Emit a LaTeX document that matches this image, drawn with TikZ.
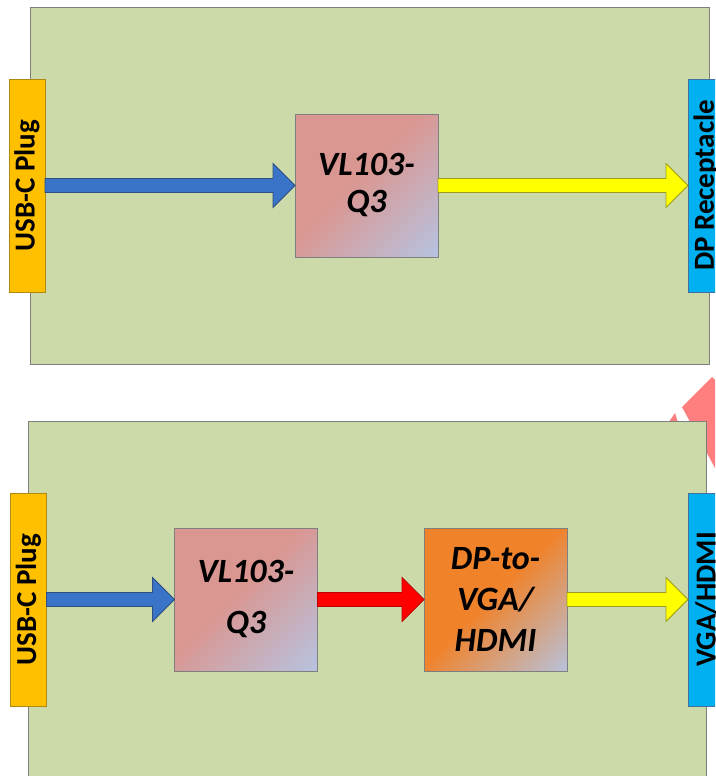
\documentclass[tikz,border=0pt]{standalone}
\usepackage{fontspec}
\setmainfont{Carlito}
\usetikzlibrary{calc}
\definecolor{panelfill}{HTML}{CBDAA8}
\definecolor{panelline}{HTML}{7F7F7F}
\definecolor{usbfill}{HTML}{FFC000}
\definecolor{usbline}{HTML}{B08A10}
\definecolor{dpfill}{HTML}{00B0F0}
\definecolor{dpline}{HTML}{41719C}
\definecolor{chipline}{HTML}{7F7F7F}
\definecolor{vlpink}{HTML}{DA9690}
\definecolor{vlblue}{HTML}{B4C6E6}
\definecolor{dporange}{HTML}{F0822A}
\definecolor{arrblue}{HTML}{3A74C8}
\definecolor{arrblueline}{HTML}{2F4F80}
\definecolor{arryellow}{HTML}{FFFF00}
\definecolor{arryellowline}{HTML}{9C9C20}
\definecolor{arrred}{HTML}{FF0000}
\definecolor{arrredline}{HTML}{C00000}
\definecolor{wmred}{HTML}{FF7F7F}
\pgfdeclarehorizontalshading{pinkblue}{100bp}{color(0bp)=(vlpink); color(45bp)=(vlpink); color(88bp)=(vlblue); color(100bp)=(vlblue)}
\pgfdeclarehorizontalshading{orangeblue}{100bp}{color(0bp)=(dporange); color(48bp)=(dporange); color(88bp)=(vlblue); color(100bp)=(vlblue)}
\tikzset{
  panel/.style={draw=panelline, fill=panelfill, line width=1pt, inner sep=0pt, outer sep=0pt, anchor=north west},
  port/.style={line width=1pt, inner sep=0pt, outer sep=0pt, minimum width=36pt, minimum height=213pt, font=\fontsize{29}{35}\selectfont\bfseries},
  usbport/.style={port, draw=usbline, fill=usbfill},
  dpport/.style={port, draw=dpline, fill=dpfill},
  chip/.style={draw=chipline, line width=1pt, inner sep=0pt, outer sep=0pt, minimum width=143pt, minimum height=143pt, align=center, font=\fontsize{34}{37}\selectfont\bfseries\itshape},
  vlchip/.style={chip, shade, shading=pinkblue, shading angle=-45},
  dpchip/.style={chip, shade, shading=orangeblue, shading angle=-45},
  fatblue/.style={fill=arrblue, draw=arrblueline, line width=0.8pt, line join=miter},
  fatyellow/.style={fill=arryellow, draw=arryellowline, line width=0.8pt, line join=miter},
  fatred/.style={fill=arrred, draw=arrredline, line width=0.8pt, line join=miter},
}
\newcommand\fatarrow[3]{%
  \draw[#3] ($(#1)+(0,-7)$) -- ($(#2)+(-22,-7)$) -- ($(#2)+(-22,-22)$) -- (#2)
    -- ($(#2)+(-22,22)$) -- ($(#2)+(-22,7)$) -- ($(#1)+(0,7)$) -- cycle;}
\begin{document}
\begin{tikzpicture}[x=1pt, y=-1pt]
\useasboundingbox (0,0) rectangle (715,776);
\clip (0,0) rectangle (715,776);
\fill[white] (0,0) rectangle (715,776);
% watermark fragment
\fill[wmred] (682,407) -- (712,377) -- (740,405) -- (740,480) -- (715,468) -- cycle;
\fill[wmred] (662,432) -- (675,413) -- (681,432) -- cycle;
% panels
\node[panel, minimum width=679pt, minimum height=356pt] (panel1) at (30,8) {};
\node[panel, minimum width=678pt, minimum height=400pt] (panel2) at (28,421) {};
% top row
\node[usbport] (usb1) at (27,185.5) {\rotatebox{90}{USB-C Plug}};
\node[dpport] (dp1) at (706,185.5) {\rotatebox{90}{DP Receptacle}};
\node[vlchip] (vl1) at (366.5,185.5) {VL103-\\Q3};
% bottom row
\node[usbport] (usb2) at (28.5,599.5) {\rotatebox{90}{USB-C Plug}};
\node[dpport] (vga) at (706,599.5) {\rotatebox{90}{VGA/HDMI}};
\node[vlchip, font=\fontsize{34}{51}\selectfont\bfseries\itshape] (vl2) at (246,599.5) {VL103-\\Q3};
\node[dpchip, font=\fontsize{34}{41}\selectfont\bfseries\itshape] (dpv) at (495.5,599.5) {DP-to-\\VGA/\\HDMI};
% connectors
\fatarrow{usb1.east}{vl1.west}{fatblue}
\fatarrow{vl1.east}{dp1.west}{fatyellow}
\fatarrow{usb2.east}{vl2.west}{fatblue}
\fatarrow{vl2.east}{dpv.west}{fatred}
\fatarrow{dpv.east}{vga.west}{fatyellow}
\end{tikzpicture}
\end{document}
